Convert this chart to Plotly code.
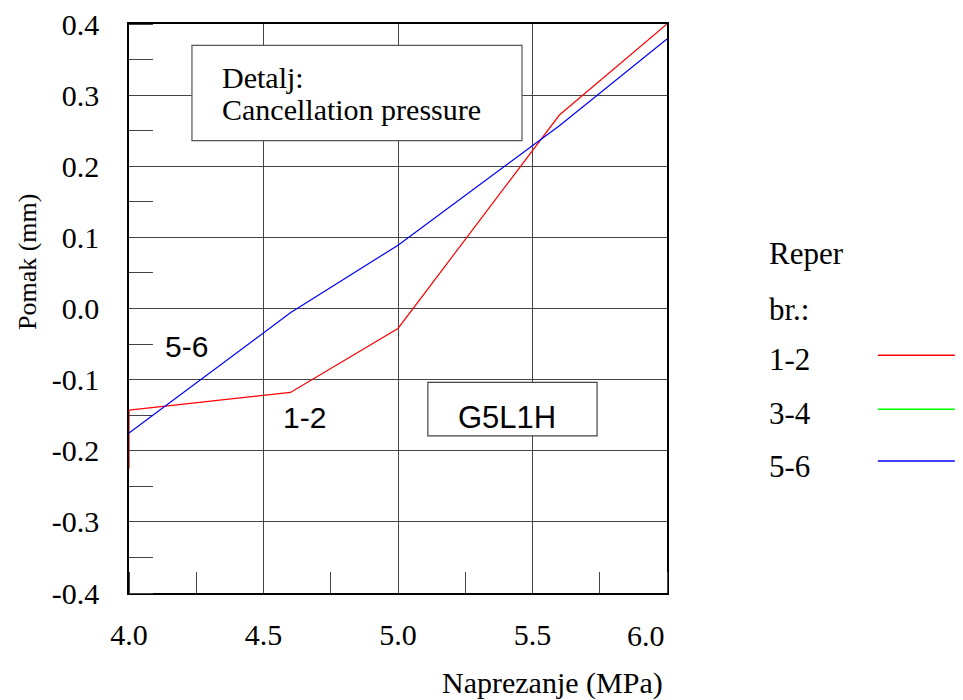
import plotly.graph_objects as go

# Reper 1-2 (red) and 5-6 (blue); 3-4 has no data, only a legend entry
x_12 = [4.0, 4.0, 4.6, 5.0, 5.6, 6.0]
y_12 = [-0.225, -0.143, -0.118, -0.028, 0.272, 0.40]
x_56 = [4.0, 4.6, 5.0, 5.6, 6.0]
y_56 = [-0.175, -0.006, 0.089, 0.257, 0.379]

x_ticks = [4.0, 4.5, 5.0, 5.5, 6.0]
x_ticktext = ["4.0", "4.5", "5.0", "5.5", "6.0"]
y_ticks = [-0.4, -0.3, -0.2, -0.1, 0.0, 0.1, 0.2, 0.3, 0.4]
y_ticktext = ["-0.4", "-0.3", "-0.2", "-0.1", "0.0", "0.1", "0.2", "0.3", "0.4"]

legend_title = ["Reper", "br.:"]
legend_labels = ["1-2", "3-4", "5-6"]
legend_colors = ["#ff0000", "#00ff00", "#0000ff"]

serif = "Liberation Serif"
sans = "Liberation Sans"
grid = "#444444"

fig = go.Figure()
fig.add_trace(go.Scatter(x=x_12, y=y_12, mode="lines", line=dict(color="#ff0000", width=1.2),
                         showlegend=False, cliponaxis=False))
fig.add_trace(go.Scatter(x=x_56, y=y_56, mode="lines", line=dict(color="#0000ff", width=1.2),
                         showlegend=False, cliponaxis=False))

fig.update_xaxes(range=[4.0, 6.0], tickvals=x_ticks[:-1], ticktext=x_ticktext[:-1],
                 showgrid=True, gridcolor=grid, gridwidth=1, zeroline=False,
                 showline=True, linecolor="black", linewidth=1.5, mirror=True,
                 ticks="", ticklabelstandoff=14, automargin=False, layer="below traces",
                 ticklabeloverflow="allow",
                 tickfont=dict(family=serif, size=30, color="black"),
                 minor=dict(ticks="inside", ticklen=21, dtick=0.25, tick0=4.0,
                            tickcolor=grid, showgrid=False))
fig.update_yaxes(range=[-0.4, 0.4], tickvals=y_ticks, ticktext=y_ticktext,
                 showgrid=True, gridcolor=grid, gridwidth=1, zeroline=False,
                 showline=True, linecolor="black", linewidth=1.5, mirror=True,
                 ticks="", ticklabelstandoff=22, automargin=False, layer="below traces",
                 ticklabeloverflow="allow",
                 tickfont=dict(family=serif, size=30, color="black"),
                 minor=dict(ticks="inside", ticklen=24, dtick=0.05, tick0=0,
                            tickcolor=grid, showgrid=False))

# last x tick label sits flush with the right border
fig.add_annotation(x=x_ticks[-1], y=0, xref="x", yref="paper", text=x_ticktext[-1],
                   showarrow=False, xanchor="right", yanchor="middle", yshift=-42,
                   font=dict(family=serif, size=30, color="black"))

# axis titles
fig.add_annotation(x=0.996, y=-0.158, xref="paper", yref="paper", text="Naprezanje (MPa)",
                   showarrow=False, xanchor="right", yanchor="middle",
                   font=dict(family=serif, size=30, color="black"))
fig.add_annotation(x=-0.19, y=0.583, xref="paper", yref="paper", text="Pomak (mm)",
                   showarrow=False, textangle=-90, xanchor="center", yanchor="middle",
                   font=dict(family=serif, size=26, color="black"))

# boxes inside the plot
fig.add_shape(type="rect", x0=4.234, x1=5.461, y0=0.236, y1=0.370, xref="x", yref="y",
              line=dict(color="#555555", width=1.2), fillcolor="white", layer="above")
fig.add_annotation(x=4.338, y=0.325, text="Detalj:", showarrow=False, xanchor="left",
                   yanchor="middle", font=dict(family=serif, size=30, color="black"))
fig.add_annotation(x=4.338, y=0.280, text="Cancellation pressure", showarrow=False,
                   xanchor="left", yanchor="middle", font=dict(family=serif, size=30, color="black"))

fig.add_shape(type="rect", x0=5.111, x1=5.740, y0=-0.179, y1=-0.104, xref="x", yref="y",
              line=dict(color="#444444", width=1.2), fillcolor="white", layer="above")
fig.add_annotation(x=5.407, y=-0.153, text="G5L1H", showarrow=False, yanchor="middle",
                   font=dict(family=sans, size=31, color="black"))

fig.add_annotation(x=4.212, y=-0.054, text="5-6", showarrow=False, yanchor="middle",
                   font=dict(family=sans, size=30, color="black"))
fig.add_annotation(x=4.651, y=-0.153, text="1-2", showarrow=False, yanchor="middle",
                   font=dict(family=sans, size=30, color="black"))

# legend drawn by hand
title_y = [0.5975, 0.499]
item_y = [0.411, 0.316, 0.223]
line_y = [0.418, 0.323, 0.232]
for t, yy in zip(legend_title, title_y):
    fig.add_annotation(x=1.186, y=yy, xref="paper", yref="paper", text=t, showarrow=False,
                       xanchor="left", yanchor="middle",
                       font=dict(family=serif, size=31, color="black"))
for lab, col, yy, ly in zip(legend_labels, legend_colors, item_y, line_y):
    fig.add_annotation(x=1.186, y=yy, xref="paper", yref="paper", text=lab, showarrow=False,
                       xanchor="left", yanchor="middle",
                       font=dict(family=serif, size=31, color="black"))
    fig.add_shape(type="line", x0=1.392, x1=1.535, y0=ly, y1=ly, xref="paper", yref="paper",
                  line=dict(color=col, width=1.5))

# the page body adds an 8px offset, so the figure is 8px smaller on each side
fig.update_layout(width=955, height=692, margin=dict(l=121, r=296, t=16, b=107),
                  plot_bgcolor="white", paper_bgcolor="white", showlegend=False)

fig.write_html("out.html")
